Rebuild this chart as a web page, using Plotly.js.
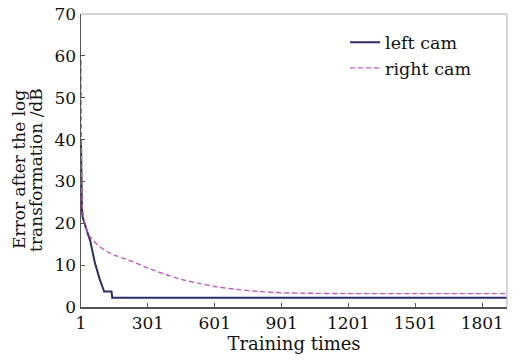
<!DOCTYPE html>
<html>
<head>
<meta charset="utf-8">
<script src="https://cdn.plot.ly/plotly-3.0.1.min.js"></script>
<style>html,body{margin:0;padding:0;background:#fff;}#chart{width:521px;height:362px;}</style>
</head>
<body>
<div id="chart"></div>
<script>
var leftCamX = [1, 2, 3, 5, 8, 18, 30, 43, 63, 85, 105, 138, 141, 1912];
var leftCamY = [40, 33, 27, 23.5, 21.5, 20, 17.8, 15.7, 10.6, 6.6, 3.7, 3.7, 2.2, 2.2];
var rightCamX = [1, 2, 4, 7, 12, 20, 33, 50, 86, 120, 160, 235, 300, 385, 450, 535, 600, 700, 800, 900, 1000, 1200, 1500, 1912];
var rightCamY = [59, 45, 30, 24, 21.5, 19.5, 17.5, 16.2, 14.4, 13.2, 12.2, 10.8, 9.3, 7.7, 6.6, 5.6, 4.9, 4.2, 3.7, 3.4, 3.3, 3.2, 3.2, 3.2];
var xTicks = [1, 301, 601, 901, 1201, 1501, 1801];
var yTicks = [0, 10, 20, 30, 40, 50, 60, 70];
var seriesNames = ['left cam', 'right cam'];
var yTitleLines = ['Error after the log', 'transformation /dB'];

var font = 'DejaVu Serif, Liberation Serif, serif';
var traces = [
  {x: leftCamX, y: leftCamY, name: seriesNames[0], type: 'scatter', mode: 'lines',
   line: {color: '#2b2c6b', width: 2}},
  {x: rightCamX, y: rightCamY, name: seriesNames[1], type: 'scatter', mode: 'lines',
   line: {color: '#c555c5', width: 1.4, dash: '5px,3px', shape: 'spline', smoothing: 0.6}}
];
var layout = {
  width: 521, height: 362,
  margin: {l: 81, r: 14, t: 14, b: 55},
  paper_bgcolor: '#fff', plot_bgcolor: '#fff',
  font: {family: font, color: '#111', size: 15},
  showlegend: true,
  legend: {x: 0.62, y: 0.965, xanchor: 'left', yanchor: 'top', bgcolor: 'rgba(0,0,0,0)',
           font: {family: font, size: 17.5, color: '#111'}, itemwidth: 30, tracegroupgap: 0},
  xaxis: {range: [1, 1912], tickvals: xTicks, ticktext: xTicks.map(String),
          showgrid: false, zeroline: false, showline: true, linecolor: '#555', linewidth: 1.5,
          ticks: 'inside', ticklen: 4, tickcolor: '#555',
          tickfont: {family: font, size: 17, color: '#111'},
          title: {text: 'Training times', font: {family: font, size: 18, color: '#111'}, standoff: 3}},
  yaxis: {range: [0, 70], tickvals: yTicks, ticktext: yTicks.map(String),
          showgrid: false, zeroline: false, showline: true, linecolor: '#555', linewidth: 1.5,
          ticks: 'inside', ticklen: 4, tickcolor: '#555',
          tickfont: {family: font, size: 17, color: '#111'}},
  annotations: [
    {text: yTitleLines[0], xref: 'paper', yref: 'paper', x: -0.1455, y: 0.468, xanchor: 'center', yanchor: 'middle',
     textangle: -90, showarrow: false, font: {family: font, size: 17, color: '#111'}},
    {text: yTitleLines[1], xref: 'paper', yref: 'paper', x: -0.1056, y: 0.468, xanchor: 'center', yanchor: 'middle',
     textangle: -90, showarrow: false, font: {family: font, size: 17, color: '#111'}}
  ],
  shapes: [
    {type: 'line', xref: 'paper', yref: 'paper', x0: 0, x1: 1, y0: 1, y1: 1, line: {color: '#aaa', width: 1.2}},
    {type: 'line', xref: 'paper', yref: 'paper', x0: 1, x1: 1, y0: 0, y1: 1, line: {color: '#bbb', width: 1.2}}
  ]
};
Plotly.newPlot('chart', traces, layout, {displayModeBar: false, staticPlot: true});
</script>
</body>
</html>
